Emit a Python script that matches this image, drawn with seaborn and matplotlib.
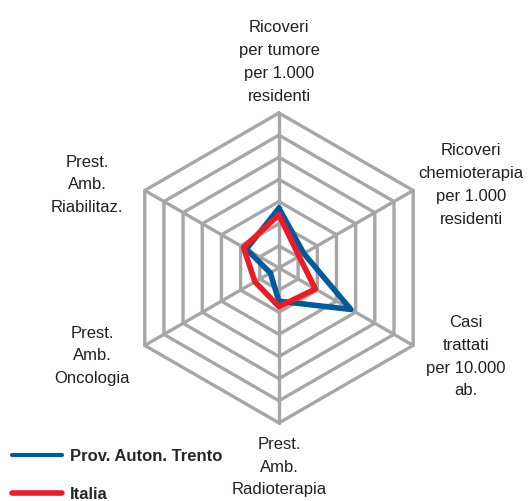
import numpy as np
import pandas as pd
import matplotlib
matplotlib.use('Agg')
import matplotlib.pyplot as plt
from matplotlib.lines import Line2D
import seaborn as sns

# Dati (scala 0-7, un anello = 1)
categorie = ['Ricoveri\nper tumore\nper 1.000\nresidenti',
             'Ricoveri\nchemioterapia\nper 1.000\nresidenti',
             'Casi\ntrattati\nper 10.000\nab.',
             'Prest.\nAmb.\nRadioterapia',
             'Prest.\nAmb.\nOncologia',
             'Prest.\nAmb.\nRiabilitaz.']
trento = [2.7, 1.3, 3.75, 1.5, 0.45, 1.7]
italia = [2.4, 1.05, 1.9, 1.75, 1.25, 1.85]
serie = ['Prov. Auton. Trento', 'Italia']
livelli = [1, 2, 3, 4, 5, 6, 7]

# posizione delle etichette (gradi in senso orario dall'alto, raggio)
etich_theta = [0, 66.6, 115.4, 180, 244.8, 293.4]
etich_r = [9.3, 9.45, 9.35, 9.0, 9.33, 9.45]

colori = {'Prov. Auton. Trento': '#005a9c', 'Italia': '#ed1c24'}
grigio = '#a6a6a6'

n = len(categorie)
angoli = np.linspace(0, 2 * np.pi, n, endpoint=False)
chiuso = np.append(angoli, angoli[0])

righe = []
for nome, valori in zip(serie, [trento, italia]):
    for th, v in zip(chiuso, valori + [valori[0]]):
        righe.append({'theta': th, 'valore': v, 'serie': nome})
df = pd.DataFrame(righe)

sns.set_theme(style='white')
plt.rcParams['font.family'] = ['Liberation Sans', 'DejaVu Sans']

fig = plt.figure(figsize=(5.28, 5.01), dpi=100)
ax = fig.add_axes([0.2348, 0.1557, 0.587, 0.619], projection='polar')
ax.set_theta_offset(np.pi / 2)
ax.set_theta_direction(-1)
ax.patch.set_alpha(0)

# griglia esagonale
for liv in livelli:
    ax.plot(chiuso, [liv] * (n + 1), color=grigio, lw=2.4, clip_on=False, zorder=1)
for a in angoli:
    ax.plot([a, a], [0, livelli[-1]], color=grigio, lw=2.4, clip_on=False, zorder=1)

sns.lineplot(data=df, x='theta', y='valore', hue='serie', palette=colori,
             sort=False, estimator=None, lw=4, legend=False, ax=ax, zorder=3)
for ln in ax.get_lines()[-2:]:
    ln.set_solid_joinstyle('round')
    ln.set_clip_on(False)

ax.set_ylim(0, livelli[-1])
ax.set_xticks([])
ax.set_yticks([])
ax.grid(False)
ax.spines['polar'].set_visible(False)
ax.set_xlabel('')
ax.set_ylabel('')

for lab, th, r in zip(categorie, etich_theta, etich_r):
    ax.text(np.deg2rad(th), r, lab, ha='center', va='center', fontsize=12,
            color='#231f20', linespacing=1.65)

handles = [Line2D([], [], color=colori[s], lw=3 if i == 0 else 4) for i, s in enumerate(serie)]
fig.legend(handles, serie, loc='upper left', bbox_to_anchor=(0.0227, 0.104),
           frameon=False, prop={'weight': 'bold', 'size': 12}, handlelength=3.0,
           handletextpad=0.5, labelspacing=1.4, borderaxespad=0, borderpad=0)

fig.savefig('out.png', dpi=100)
